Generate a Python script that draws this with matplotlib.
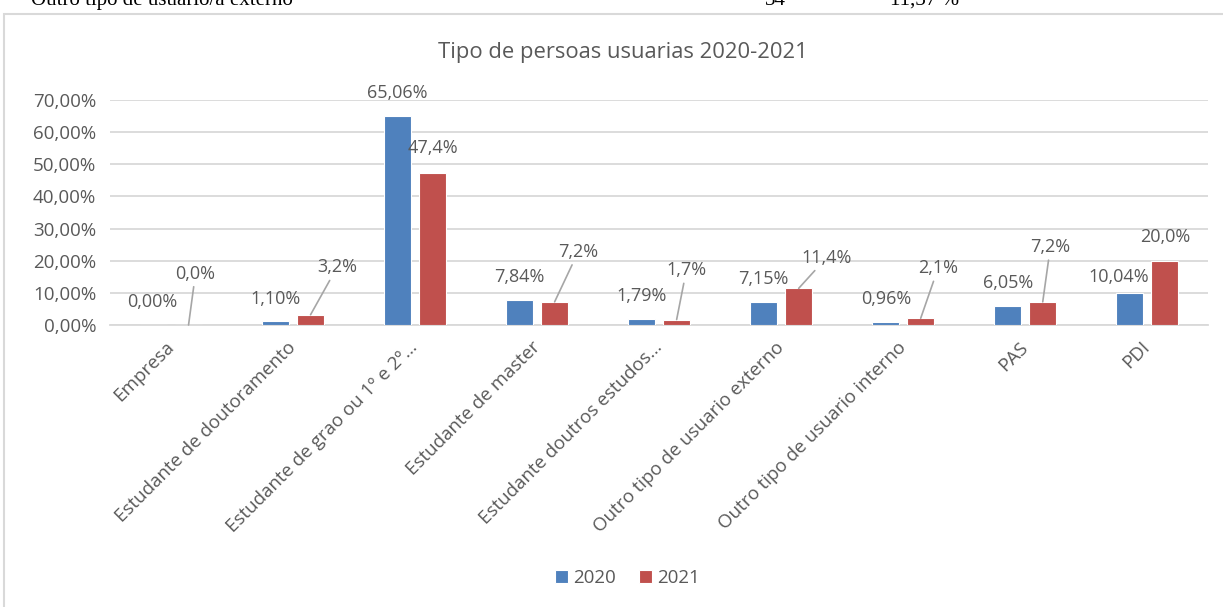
import matplotlib

matplotlib.use("Agg")
import matplotlib.pyplot as plt  # noqa: E402
import numpy as np  # noqa: E402
from matplotlib.patches import Rectangle  # noqa: E402
from matplotlib.ticker import FuncFormatter  # noqa: E402

CATEGORIES = [
    "Empresa",
    "Estudante de doutoramento",
    "Estudante de grao ou 1º e 2º…",
    "Estudante de master",
    "Estudante doutros estudos…",
    "Outro tipo de usuario externo",
    "Outro tipo de usuario interno",
    "PAS",
    "PDI",
]
Y2020 = [0.00, 1.10, 65.06, 7.84, 1.79, 7.15, 0.96, 6.05, 10.04]
Y2021 = [0.0, 3.2, 47.4, 7.2, 1.7, 11.4, 2.1, 7.2, 20.0]
TITLE = "Tipo de persoas usuarias 2020-2021"

# label offsets in points (dx, dy) relative to bar top
OFF2020 = [(-1, 16.5)] + [(0, 16.5)] * 7 + [(-8, 11.5)]
OFF2021 = [(5, 37), (19, 34), (0, 17.5), (17, 36), (7, 35.5),
           (20, 22), (12.5, 36), (5.5, 39.5), (0, 17)]
LEADER2021 = [True, True, False, True, True, True, True, True, False]

BLUE = "#4F81BD"
RED = "#C0504D"
TXT = "#595959"
GRID = "#D9D9D9"

plt.rcParams["font.family"] = ["Open Sans", "DejaVu Sans"]

fig = plt.figure(figsize=(12.23, 6.07), dpi=100)
ax = fig.add_axes([0.09, 0.4646, 0.898, 0.3706])

x = np.arange(len(CATEGORIES))
w = 0.22
off = 0.143
ax.bar(x - off, Y2020, w, color=BLUE, edgecolor="white", linewidth=0.8, label="2020", zorder=3)
ax.bar(x + off, Y2021, w, color=RED, edgecolor="white", linewidth=0.8, label="2021", zorder=3)


def pct(v, nd):
    return f"{v:.{nd}f}%".replace(".", ",")


for i, v in enumerate(Y2020):
    ax.annotate(pct(v, 2), (x[i] - off, v), xytext=OFF2020[i], textcoords="offset points",
                ha="center", va="center", fontsize=13, color=TXT)
for i, v in enumerate(Y2021):
    props = dict(arrowstyle="-", color="#A6A6A6", lw=1.2, shrinkA=1, shrinkB=0) if LEADER2021[i] else None
    ax.annotate(pct(v, 1), (x[i] + off, v), xytext=OFF2021[i], textcoords="offset points",
                ha="center", va="center", fontsize=13, color=TXT, arrowprops=props)

ax.set_xlim(-0.5, len(CATEGORIES) - 0.5)
ax.set_ylim(0, 70)
ax.set_yticks(np.arange(0, 71, 10))
ax.yaxis.set_major_formatter(FuncFormatter(lambda v, p: pct(v, 2)))
ax.grid(axis="y", color=GRID, lw=1.3, zorder=0)
ax.set_axisbelow(True)
for s in ["top", "right", "left"]:
    ax.spines[s].set_visible(False)
ax.spines["bottom"].set_color(GRID)
ax.spines["bottom"].set_linewidth(1.3)
ax.tick_params(axis="both", length=0, labelsize=13.5, colors=TXT)
ax.tick_params(axis="y", pad=10)
ax.tick_params(axis="x", pad=14)
ax.set_xticks(x)
ax.set_xticklabels(CATEGORIES, rotation=45, ha="right", va="center", rotation_mode="anchor")
for t in ax.get_xticklabels():
    t.set_color(TXT)

fig.text(0.509, 0.914, TITLE, ha="center", va="center", fontsize=15.8, color=TXT)

leg = fig.legend(loc="center", bbox_to_anchor=(0.513, 0.048), ncol=2, frameon=False,
                 fontsize=13.5, handlelength=0.7, handleheight=0.7, handletextpad=0.3,
                 columnspacing=1.2)
for t in leg.get_texts():
    t.set_color(TXT)

# chart border
fig.patches.append(Rectangle((4 / 1223, -0.01), 1.02, 1 - 14 / 607 + 0.01,
                             transform=fig.transFigure, fill=False,
                             edgecolor=GRID, lw=1.5))

# cropped document text above the chart
serif = ["Liberation Serif", "DejaVu Serif"]
fig.text(31 / 1223, 1 - 5 / 607, "Outro tipo de usuario/a externo", family=serif,
         fontsize=15, va="baseline", color="black")
fig.text(765 / 1223, 1 - 5 / 607, "34", family=serif, fontsize=15, va="baseline")
fig.text(890 / 1223, 1 - 5 / 607, "11,37 %", family=serif, fontsize=15, va="baseline")

fig.savefig("out.png", dpi=100)
